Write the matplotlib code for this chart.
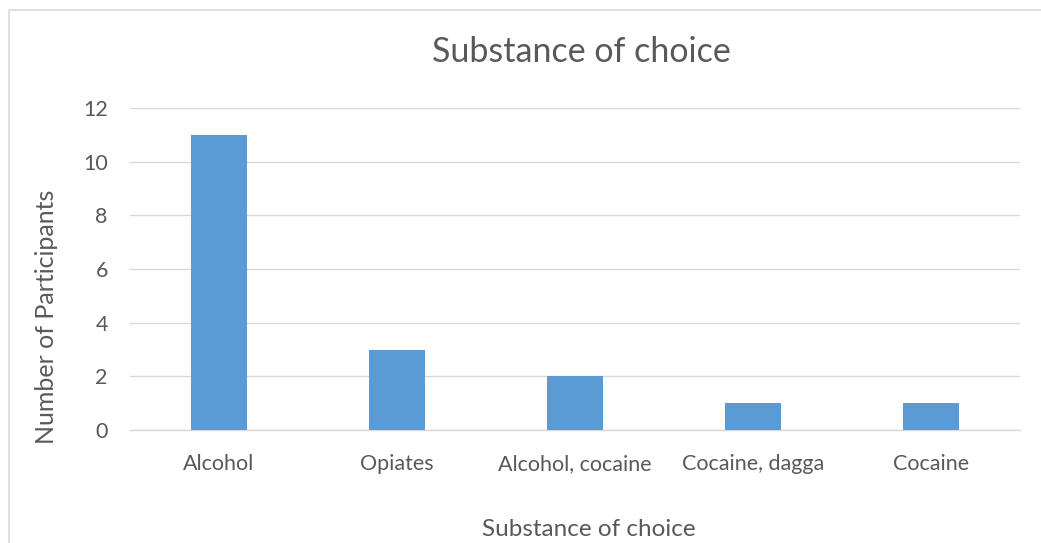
import matplotlib
matplotlib.use("Agg")
import matplotlib.pyplot as plt
from matplotlib.patches import Rectangle

categories = ["Alcohol", "Opiates", "Alcohol, cocaine", "Cocaine, dagga", "Cocaine"]
participants = [11, 3, 2, 1, 1]
yticks = [0, 2, 4, 6, 8, 10, 12]

TEXT = "#595959"
GRID = "#D9D9D9"
BAR = "#5B9BD5"

plt.rcParams["font.family"] = ["Lato", "DejaVu Sans"]

W, H = 1041, 543
fig = plt.figure(figsize=(W / 100, H / 100), dpi=100)
ax = fig.add_axes([130 / W, 1 - 430 / H, 890 / W, 322 / H])

# chart frame (cropped at right and bottom like the source)
fig.patches.append(Rectangle((9 / W, -0.1), 1.2, 1.1 - 10 / H,
                             transform=fig.transFigure, fill=False,
                             edgecolor=GRID, linewidth=1.2))

x = range(len(categories))
ax.bar(x, participants, width=0.315, color=BAR, zorder=3)

ax.set_xlim(-0.5, len(categories) - 0.5)
ax.set_ylim(0, 12)
ax.set_yticks(yticks)
ax.set_xticks(list(x))
ax.set_xticklabels(categories)
ax.grid(axis="y", color=GRID, linewidth=1, zorder=0)
for s in ["top", "right", "left"]:
    ax.spines[s].set_visible(False)
ax.spines["bottom"].set_color(GRID)
ax.spines["bottom"].set_linewidth(1)
ax.tick_params(length=0, labelsize=15.5, colors=TEXT, pad=17)
ax.tick_params(axis="y", pad=16)

fig.text(581 / W, 1 - 52 / H, "Substance of choice", fontsize=24.5, color=TEXT,
         ha="center", va="center")
fig.text(589 / W, 1 - 530 / H, "Substance of choice", fontsize=17.5, color=TEXT,
         ha="center", va="center")
fig.text(47 / W, 1 - 317 / H, "Number of Participants", fontsize=18, color=TEXT,
         ha="center", va="center", rotation=90)

fig.savefig("out.png", dpi=100)
